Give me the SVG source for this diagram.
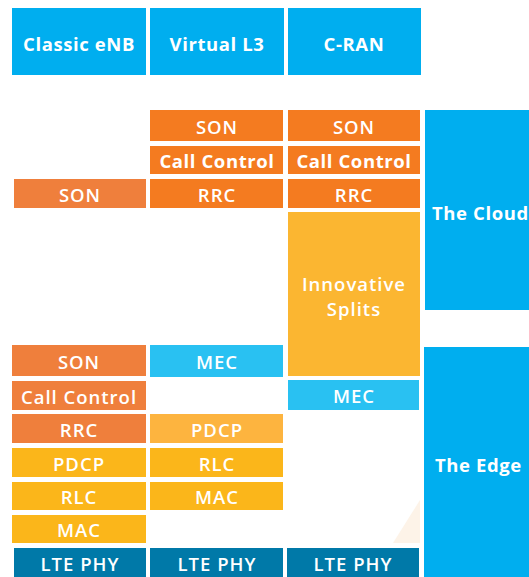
<svg xmlns="http://www.w3.org/2000/svg" width="529" height="577" viewBox="0 0 529 577">
  <style>
    text { font-family: "Open Sans", "Liberation Sans", sans-serif; fill: #ffffff; text-anchor: middle; dominant-baseline: central; font-size: 18.5px; font-weight: 700; letter-spacing: 0.6px; }
    .reg { font-weight: 600; letter-spacing: 1px; }
    .side { text-anchor: start; }
    .blue { fill: #00aeef; }
    .org { fill: #f47b20; }
    .org2 { fill: #ef7f3c; }
    .yel { fill: #fbb61a; }
    .yel2 { fill: #fdb43f; }
    .spl { fill: #fbb631; }
    .mec { fill: #29c1f2; }
    .phy { fill: #0079a8; }
  </style>

  <!-- column headers -->
  <g id="hdr-classic"><rect class="blue" x="12" y="8" width="134" height="67"/><text x="79" y="43">Classic eNB</text></g>
  <g id="hdr-virtual"><rect class="blue" x="150" y="8" width="134" height="67"/><text x="217" y="43">Virtual L3</text></g>
  <g id="hdr-cran"><rect class="blue" x="288" y="8" width="133" height="67"/><text x="354" y="43">C-RAN</text></g>

  <!-- cloud / edge bands -->
  <g id="cloud"><rect class="blue" x="425" y="110" width="104" height="200"/><text class="side" x="432" y="212">The Cloud</text></g>
  <g id="edge"><rect class="blue" x="424" y="347" width="105" height="230"/><text class="side" x="435" y="464">The Edge</text></g>

  <!-- faint wedge behind the edge band -->
  <polygon points="393,543 420,543 420,500" fill="#fdf3e8"/>

  <!-- Classic eNB stack -->
  <g id="classic-son-top"><rect class="org2" x="14" y="179" width="132" height="29"/><text class="reg" x="80" y="194">SON</text></g>
  <g id="classic-son"><rect class="org2" x="12" y="345" width="134" height="31"/><text class="reg" x="79" y="361">SON</text></g>
  <g id="classic-cc"><rect class="org2" x="12" y="381" width="134" height="29"/><text class="reg" x="79" y="396">Call Control</text></g>
  <g id="classic-rrc"><rect class="org2" x="12" y="414" width="134" height="29"/><text class="reg" x="79" y="429">RRC</text></g>
  <g id="classic-pdcp"><rect class="yel" x="12" y="448" width="134" height="29"/><text class="reg" x="79" y="463">PDCP</text></g>
  <g id="classic-rlc"><rect class="yel" x="12" y="482" width="134" height="28"/><text class="reg" x="79" y="496">RLC</text></g>
  <g id="classic-mac"><rect class="yel" x="12" y="515" width="134" height="28"/><text class="reg" x="79" y="529">MAC</text></g>
  <g id="classic-phy"><rect class="phy" x="14" y="548" width="132" height="29"/><text class="reg" x="80" y="563">LTE PHY</text></g>

  <!-- Virtual L3 stack -->
  <g id="virtual-son"><rect class="org" x="150" y="110" width="133" height="31"/><text class="reg" x="217" y="126">SON</text></g>
  <g id="virtual-cc"><rect class="org" x="150" y="146" width="133" height="28"/><text x="217" y="160">Call Control</text></g>
  <g id="virtual-rrc"><rect class="org" x="150" y="179" width="133" height="29"/><text class="reg" x="217" y="194">RRC</text></g>
  <g id="virtual-mec"><rect class="mec" x="150" y="345" width="133" height="32"/><text class="reg" x="217" y="361">MEC</text></g>
  <g id="virtual-pdcp"><rect class="yel2" x="150" y="414" width="133" height="29"/><text class="reg" x="217" y="429">PDCP</text></g>
  <g id="virtual-rlc"><rect class="yel" x="150" y="448" width="133" height="29"/><text class="reg" x="217" y="463">RLC</text></g>
  <g id="virtual-mac"><rect class="yel" x="150" y="482" width="133" height="28"/><text class="reg" x="217" y="496">MAC</text></g>
  <g id="virtual-phy"><rect class="phy" x="150" y="548" width="133" height="29"/><text class="reg" x="217" y="563">LTE PHY</text></g>

  <!-- C-RAN stack -->
  <g id="cran-son"><rect class="org" x="288" y="110" width="132" height="31"/><text class="reg" x="354" y="126">SON</text></g>
  <g id="cran-cc"><rect class="org" x="288" y="146" width="132" height="28"/><text x="354" y="160">Call Control</text></g>
  <g id="cran-rrc"><rect class="org" x="288" y="179" width="132" height="29"/><text class="reg" x="354" y="194">RRC</text></g>
  <g id="cran-splits"><rect class="spl" x="288" y="212" width="132" height="164"/><text class="reg" x="354" y="283">Innovative</text><text class="reg" x="354" y="308">Splits</text></g>
  <g id="cran-mec"><rect class="mec" x="288" y="380" width="131" height="30"/><text class="reg" x="354" y="395">MEC</text></g>
  <g id="cran-phy"><rect class="phy" x="287" y="548" width="132" height="29"/><text class="reg" x="353" y="563">LTE PHY</text></g>

  <g id="connectors"></g>
</svg>
